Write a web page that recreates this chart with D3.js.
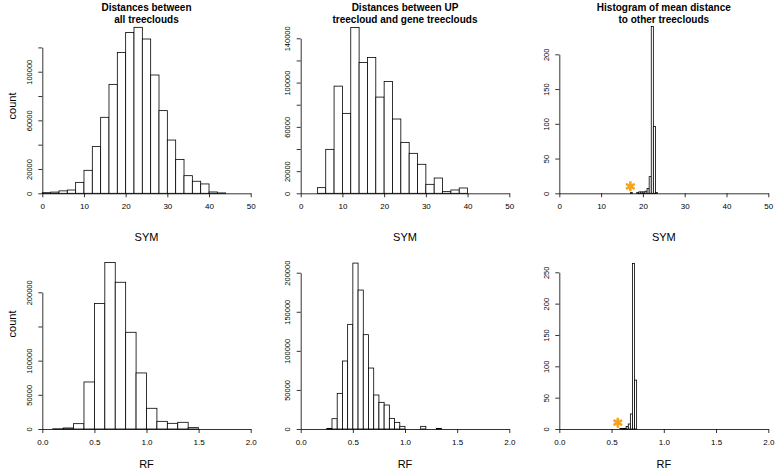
<!DOCTYPE html>
<html>
<head>
<meta charset="utf-8">
<script src="https://cdn.jsdelivr.net/npm/d3@7"></script>
<style>
body { margin: 0; background: #fff; }
text { font-family: "Liberation Sans", Arial, Helvetica, sans-serif; fill: #000; }
</style>
</head>
<body>
<svg id="fig" width="777" height="470"></svg>
<script>
// ---- data (counts per bin) ----
var symAllStart = 0, symAllWidth = 2;
var symAllCounts = [500, 1000, 2000, 2700, 9000, 18900, 38400, 62500, 89600, 115900, 132300,
  136500, 126900, 97300, 68000, 43800, 27900, 14500, 9900, 7700, 1100, 300];

var symUpStart = 4, symUpWidth = 2;
var symUpCounts = [5100, 39700, 96800, 72200, 149800, 118200, 122700, 86900, 101000, 67100,
  46000, 36100, 26200, 8100, 13800, 1500, 3000, 4800];

var symMeanStart = 17, symMeanWidth = 0.5;
var symMeanCounts = [1, 0, 0, 1, 2, 2, 2, 3, 7, 24, 240, 96, 1];

var rfAllStart = 0.1, rfAllWidth = 0.1;
var rfAllCounts = [300, 1500, 7800, 68800, 183500, 243500, 214700, 141500, 82000, 30300,
  11200, 8300, 9800, 2000];

var rfUpStart = 0.25, rfUpWidth = 0.05;
var rfUpCounts = [800, 13200, 45600, 87000, 133900, 212300, 177800, 120700, 78000, 43500,
  34100, 30700, 13600, 8500, 3400, 0, 0, 0, 3400, 0, 0, 800];

var rfMeanStart = 0.58, rfMeanWidth = 0.02;
var rfMeanCounts = [1, 1, 1, 4, 8, 24, 264, 78];

var symTicks = [0, 10, 20, 30, 40, 50];
var rfTicks = [0, 0.5, 1, 1.5, 2];

var yTicks1 = [0, 20000, 40000, 60000, 80000, 100000, 120000];
var yLabels1 = [0, 20000, 60000, 100000];
var yTicks2 = [0, 20000, 40000, 60000, 80000, 100000, 120000, 140000];
var yLabels2 = [0, 20000, 60000, 100000, 140000];
var yTicks3 = [0, 50, 100, 150, 200];
var yTicks4 = [0, 50000, 100000, 150000, 200000];
var yLabels4 = [0, 50000, 100000, 200000];
var yTicks5 = [0, 50000, 100000, 150000, 200000];
var yTicks6 = [0, 50, 100, 150, 200, 250];

var titles = [
  ["Distances between", "all treeclouds"],
  ["Distances between UP", "treecloud and gene treeclouds"],
  ["Histogram of mean distance", "to other treeclouds"]
];

// star marks on the mean-distance panels: [x, y]
var symStar = [17, 10];
var rfStar = [0.56, 10];

// ---- layout ----
var svg = d3.select("#fig");
var colX = [[42.3, 250.7], [300.7, 509.3], [559.3, 768.3]];
var rowBase = [193.3, 429];
var xlabOffset = [48, 39];
var ylabCenter = [106, 324];

var panels = [
  {col: 0, row: 0, start: symAllStart, w: symAllWidth, counts: symAllCounts, xd: [0, 50], xt: symTicks, xf: d3.format("d"),
   yt: yTicks1, yl: yLabels1, ytop: 47.4, xlab: "SYM", ylab: true, title: titles[0]},
  {col: 1, row: 0, start: symUpStart, w: symUpWidth, counts: symUpCounts, xd: [0, 50], xt: symTicks, xf: d3.format("d"),
   yt: yTicks2, yl: yLabels2, ytop: 38.3, xlab: "SYM", title: titles[1]},
  {col: 2, row: 0, start: symMeanStart, w: symMeanWidth, counts: symMeanCounts, xd: [0, 50], xt: symTicks, xf: d3.format("d"),
   yt: yTicks3, yl: yTicks3, ytop: 54.3, xlab: "SYM", title: titles[2], star: symStar},
  {col: 0, row: 1, start: rfAllStart, w: rfAllWidth, counts: rfAllCounts, xd: [0, 2], xt: rfTicks, xf: d3.format(".1f"),
   yt: yTicks4, yl: yLabels4, ytop: 292.3, xlab: "RF", ylab: true},
  {col: 1, row: 1, start: rfUpStart, w: rfUpWidth, counts: rfUpCounts, xd: [0, 2], xt: rfTicks, xf: d3.format(".1f"),
   yt: yTicks5, yl: yTicks5, ytop: 272.7, xlab: "RF"},
  {col: 2, row: 1, start: rfMeanStart, w: rfMeanWidth, counts: rfMeanCounts, xd: [0, 2], xt: rfTicks, xf: d3.format(".1f"),
   yt: yTicks6, yl: yTicks6, ytop: 272.3, xlab: "RF", star: rfStar}
];

panels.forEach(drawHist);

function drawHist(p) {
  var base = rowBase[p.row];
  var x = d3.scaleLinear().domain(p.xd).range(colX[p.col]);
  var ymax = p.yt[p.yt.length - 1];
  var y = d3.scaleLinear().domain([0, ymax]).range([base, p.ytop]);
  var g = svg.append("g");

  var bins = p.counts.map(function (c, i) {
    return {x0: p.start + i * p.w, x1: p.start + (i + 1) * p.w, n: c};
  });

  g.selectAll("rect").data(bins).enter().append("rect")
    .attr("x", function (d) { return x(d.x0); })
    .attr("width", function (d) { return x(d.x1) - x(d.x0); })
    .attr("y", function (d) { return y(d.n); })
    .attr("height", function (d) { return base - y(d.n); })
    .attr("fill", "#fff")
    .attr("stroke", "#000")
    .attr("stroke-width", 0.8);

  // x axis
  var xa = g.append("g").attr("transform", "translate(0," + base + ")")
    .call(d3.axisBottom(x).tickValues(p.xt).tickFormat(p.xf).tickSize(4).tickSizeOuter(0));
  xa.selectAll("text").attr("font-size", 8).attr("dy", "0.71em").attr("y", 10);

  // y axis, labels rotated like R's
  var ya = g.append("g").attr("transform", "translate(" + colX[p.col][0] + ",0)")
    .call(d3.axisLeft(y).tickValues(p.yt).tickSize(4).tickSizeOuter(0)
      .tickFormat(function (v) { return p.yl.indexOf(v) >= 0 ? d3.format("d")(v) : ""; }));
  ya.selectAll("text")
    .attr("font-size", 7.5)
    .attr("text-anchor", "middle")
    .attr("x", 0).attr("dy", "0.35em")
    .attr("transform", "translate(-13,0) rotate(-90)");
  g.selectAll(".domain, .tick line").attr("stroke", "#000").attr("stroke-width", 0.8);

  // axis titles
  g.append("text")
    .attr("x", (colX[p.col][0] + colX[p.col][1]) / 2)
    .attr("y", base + xlabOffset[p.row])
    .attr("text-anchor", "middle")
    .attr("font-size", 11)
    .text(p.xlab);
  if (p.ylab) {
    g.append("text")
      .attr("transform", "translate(16," + ylabCenter[p.row] + ") rotate(-90)")
      .attr("text-anchor", "middle")
      .attr("font-size", 11)
      .text("count");
  }

  if (p.title) {
    g.selectAll(".title").data(p.title).enter().append("text")
      .attr("class", "title")
      .attr("x", (colX[p.col][0] + colX[p.col][1]) / 2)
      .attr("y", function (d, i) { return 10.5 + i * 12.5; })
      .attr("text-anchor", "middle")
      .attr("font-size", 10)
      .attr("font-weight", "bold")
      .text(function (d) { return d; });
  }

  if (p.star) {
    g.append("path")
      .attr("d", d3.symbol().type(d3.symbolAsterisk).size(70)())
      .attr("transform", "translate(" + x(p.star[0]) + "," + y(p.star[1]) + ")")
      .attr("fill", "none")
      .attr("stroke", "#f5a51c")
      .attr("stroke-width", 2.6);
  }
}
</script>
</body>
</html>
